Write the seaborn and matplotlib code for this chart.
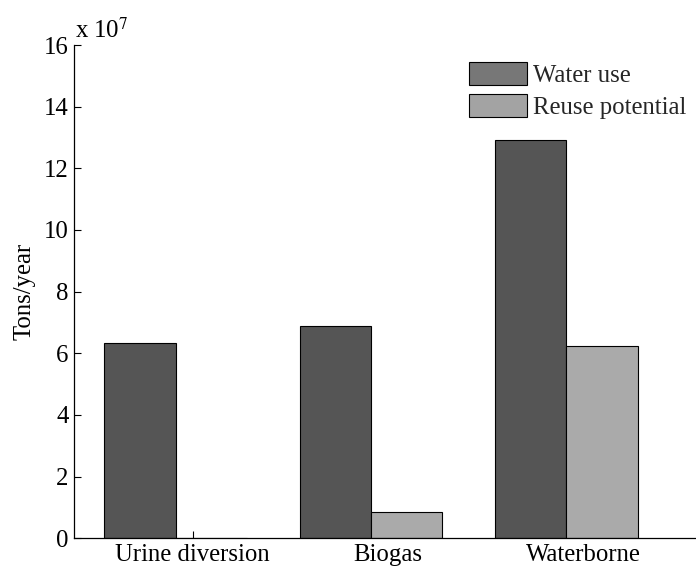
import numpy as np
import pandas as pd
import matplotlib
matplotlib.use("Agg")
import matplotlib.pyplot as plt
import seaborn as sns
from matplotlib.patches import Patch
from matplotlib.ticker import FuncFormatter

# ---- data ----
categories = ["Urine diversion", "Biogas", "Waterborne"]
water_use = [6.34e7, 6.90e7, 12.92e7]
reuse_potential = [0.0, 0.86e7, 6.24e7]
series_names = ["Water use", "Reuse potential"]
y_ticks = [0, 2, 4, 6, 8, 10, 12, 14, 16]

df = pd.DataFrame({
    "system": categories * 2,
    "tons": water_use + reuse_potential,
    "series": [series_names[0]] * 3 + [series_names[1]] * 3,
})

sns.set_theme(style="white")
plt.rcParams["font.family"] = ["Liberation Serif", "DejaVu Serif"]
plt.rcParams["mathtext.fontset"] = "stix"

fig = plt.figure(figsize=(6.96, 5.71), dpi=100)
ax = fig.add_axes([74 / 696, 1 - 538.3 / 571, 1 - 74 / 696 + 0.01, (538.3 - 45) / 571])

bar_colors = ["#555555", "#aaaaaa"]
sns.barplot(data=df, x="system", y="tons", hue="series", palette=bar_colors,
            saturation=1, width=0.73, edgecolor="black", linewidth=0.8,
            legend=False, ax=ax)

fs = 17.8
ax.set_xlim(-0.521, 2.70)
ax.set_ylim(0, 16e7)
ax.set_yticks([t * 1e7 for t in y_ticks])
ax.yaxis.set_major_formatter(FuncFormatter(lambda v, p: f"{v / 1e7:g}"))
ax.set_xticks(np.arange(len(categories)) + 0.087, labels=categories)
ax.set_axisbelow(True)
ax.tick_params(axis="both", direction="in", length=5, width=0.8, color="black",
               labelsize=fs, labelcolor="black")
ax.tick_params(axis="x", pad=4)
ax.tick_params(axis="y", pad=4, left=True)
ax.tick_params(axis="x", bottom=True)

for s in ["top", "right"]:
    ax.spines[s].set_visible(False)
for s in ["left", "bottom"]:
    ax.spines[s].set_visible(True)
    ax.spines[s].set_color("black")
    ax.spines[s].set_linewidth(0.9)

ax.set_xlabel("")
ax.set_ylabel("Tons/year", fontsize=fs, color="black", labelpad=6)

fig.text(75 / 696, 1 - 38 / 571, "x 10$^{7}$", fontsize=fs, color="black",
         ha="left", va="baseline")

handles = [Patch(facecolor="#777777", edgecolor="black", linewidth=0.8),
           Patch(facecolor="#a3a3a3", edgecolor="black", linewidth=0.8)]
ax.legend(handles, series_names, loc="upper left", frameon=False,
          bbox_to_anchor=(469 / 696, 1 - 62 / 571), bbox_transform=fig.transFigure,
          fontsize=fs, handlelength=2.35, handleheight=1.05, labelspacing=0.3,
          handletextpad=0.25, borderpad=0, borderaxespad=0)

fig.savefig("out.png", dpi=100)
